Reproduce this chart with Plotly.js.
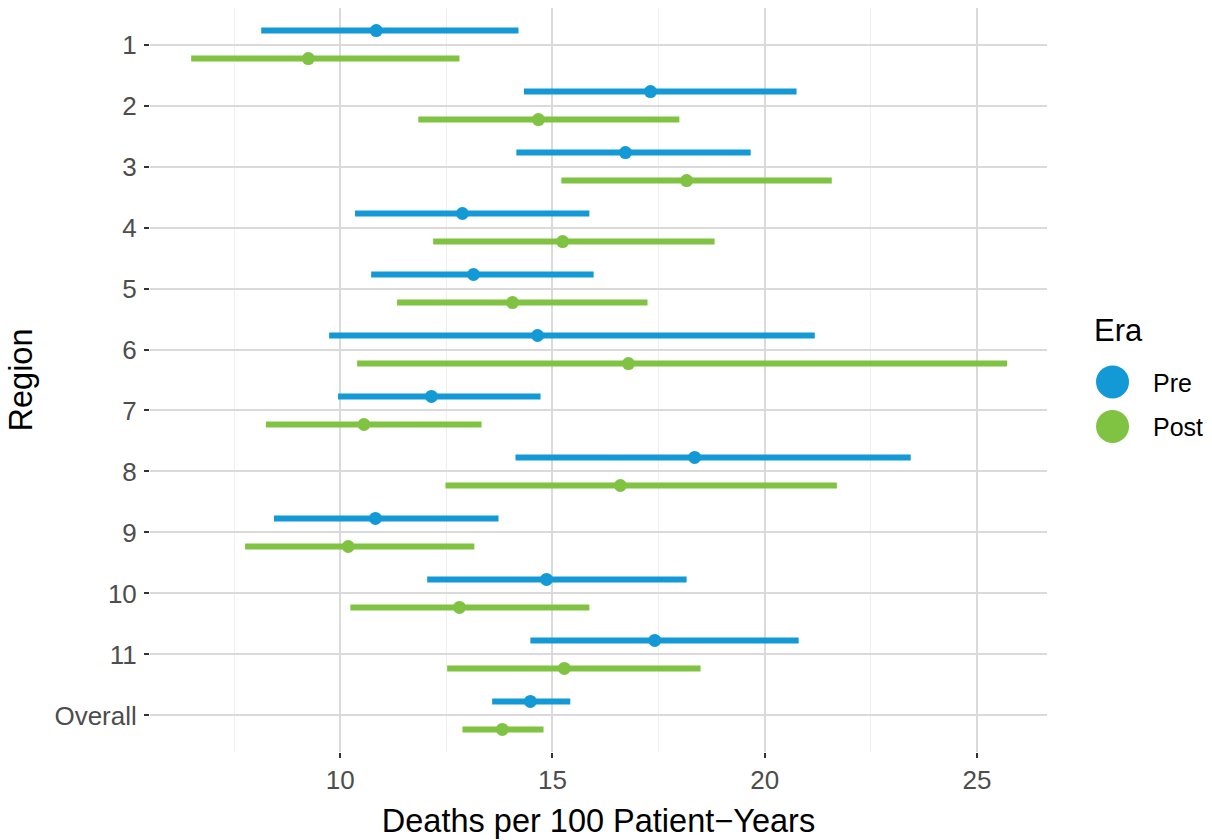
<!DOCTYPE html>
<html>
<head>
<meta charset="utf-8">
<script src="https://cdn.plot.ly/plotly-3.0.1.min.js"></script>
<style>
  html, body { margin: 0; padding: 0; background: #ffffff; }
  #chart { width: 1212px; height: 840px; }
</style>
</head>
<body>
<div id="chart"></div>
<script>
// Regions, top to bottom
const regions = ["1", "2", "3", "4", "5", "6", "7", "8", "9", "10", "11", "Overall"];

// Deaths per 100 patient-years: estimate with lower / upper interval bounds
const preEst   = [10.85, 17.31, 16.72, 12.88, 13.14, 14.65, 12.15, 18.35, 10.83, 14.86, 17.41, 14.48];
const preLow   = [ 8.14, 14.33, 14.15, 10.35, 10.73,  9.74,  9.95, 14.13,  8.44, 12.05, 14.48, 13.58];
const preHigh  = [14.20, 20.75, 19.67, 15.87, 15.97, 21.18, 14.72, 23.44, 13.73, 18.16, 20.80, 15.42];

const postEst  = [ 9.25, 14.67, 18.16, 15.24, 14.06, 16.79, 10.56, 16.60, 10.19, 12.81, 15.28, 13.82];
const postLow  = [ 6.49, 11.84, 15.21, 12.19, 11.34, 10.40,  8.25, 12.48,  7.76, 10.24, 12.52, 12.88];
const postHigh = [12.81, 17.99, 21.58, 18.82, 17.24, 25.71, 13.33, 21.70, 13.16, 15.87, 18.49, 14.79];

const eraNames  = ["Pre", "Post"];
const eraColors = ["#1399d6", "#80c342"];
const legendTitle = "Era";
const dodge = 0.23;   // vertical offset of each era within a region row

const rowIndex = regions.map((_, i) => i + 1);

function eraTrace(name, color, est, low, high, shift) {
  return {
    type: "scatter",
    mode: "markers",
    name: name,
    legendgroup: name,
    x: est,
    y: rowIndex.map(v => v + shift),
    marker: { color: color, size: 13 },
    error_x: {
      type: "data",
      symmetric: false,
      array: high.map((h, i) => h - est[i]),
      arrayminus: est.map((e, i) => e - low[i]),
      color: color,
      thickness: 6,
      width: 0
    },
    hovertemplate: name + ": %{x:.2f}<extra></extra>"
  };
}

const data = [
  eraTrace(eraNames[0], eraColors[0], preEst, preLow, preHigh, -dodge),
  eraTrace(eraNames[1], eraColors[1], postEst, postLow, postHigh, dodge)
];

const FONT = "Liberation Sans, Arial, Helvetica, sans-serif";
const tickFont = { family: FONT, size: 26, color: "#4d4d4d" };
const titleFont = { family: FONT, size: 32.5, color: "#000000" };

const layout = {
  width: 1212,
  height: 840,
  paper_bgcolor: "#ffffff",
  plot_bgcolor: "#ffffff",
  margin: { l: 150, r: 165, t: 8, b: 88, autoexpand: false },
  showlegend: true,
  legend: {
    font: { family: FONT, size: 25, color: "#000000" },
    x: 1.0279,
    xanchor: "left",
    y: 0.528,
    yanchor: "top",
    itemsizing: "constant",
    itemwidth: 71,
    tracegroupgap: 9,
    bgcolor: "rgba(0,0,0,0)"
  },
  annotations: [{
    text: legendTitle,
    xref: "paper", yref: "paper",
    x: 1.0502, y: 0.566,
    xanchor: "left", yanchor: "middle",
    showarrow: false,
    font: { family: FONT, size: 31, color: "#000000" }
  }],
  xaxis: {
    range: [5.52, 26.65],
    tickvals: [10, 15, 20, 25],
    ticktext: ["10", "15", "20", "25"],
    showgrid: true,
    gridcolor: "#dadada",
    gridwidth: 2,
    minor: { tickvals: [7.5, 12.5, 17.5, 22.5], showgrid: true, gridcolor: "#efefef", gridwidth: 1, ticks: "" },
    zeroline: false,
    showline: false,
    ticks: "outside",
    ticklen: 5,
    tickwidth: 2,
    tickcolor: "#333333",
    tickfont: tickFont,
    title: { text: "Deaths per 100 Patient\u2212Years", font: titleFont, standoff: 15 }
  },
  yaxis: {
    range: [12.6, 0.4],
    tickvals: rowIndex,
    ticktext: regions,
    showgrid: true,
    gridcolor: "#dadada",
    gridwidth: 2,
    zeroline: false,
    showline: false,
    ticks: "outside",
    ticklen: 5,
    tickwidth: 2,
    tickcolor: "#333333",
    tickfont: tickFont,
    ticklabelstandoff: 2,
    title: { text: "Region", font: titleFont, standoff: 12 }
  }
};

Plotly.newPlot("chart", data, layout, { displayModeBar: false, staticPlot: true }).then(gd => {
  // Enlarge the legend key circles to pointrange-style keys
  gd.querySelectorAll(".legend .legendpoints path").forEach(p => {
    const t = p.getAttribute("transform") || "";
    p.setAttribute("transform", t + " scale(2.75)");
  });
});
</script>
</body>
</html>
